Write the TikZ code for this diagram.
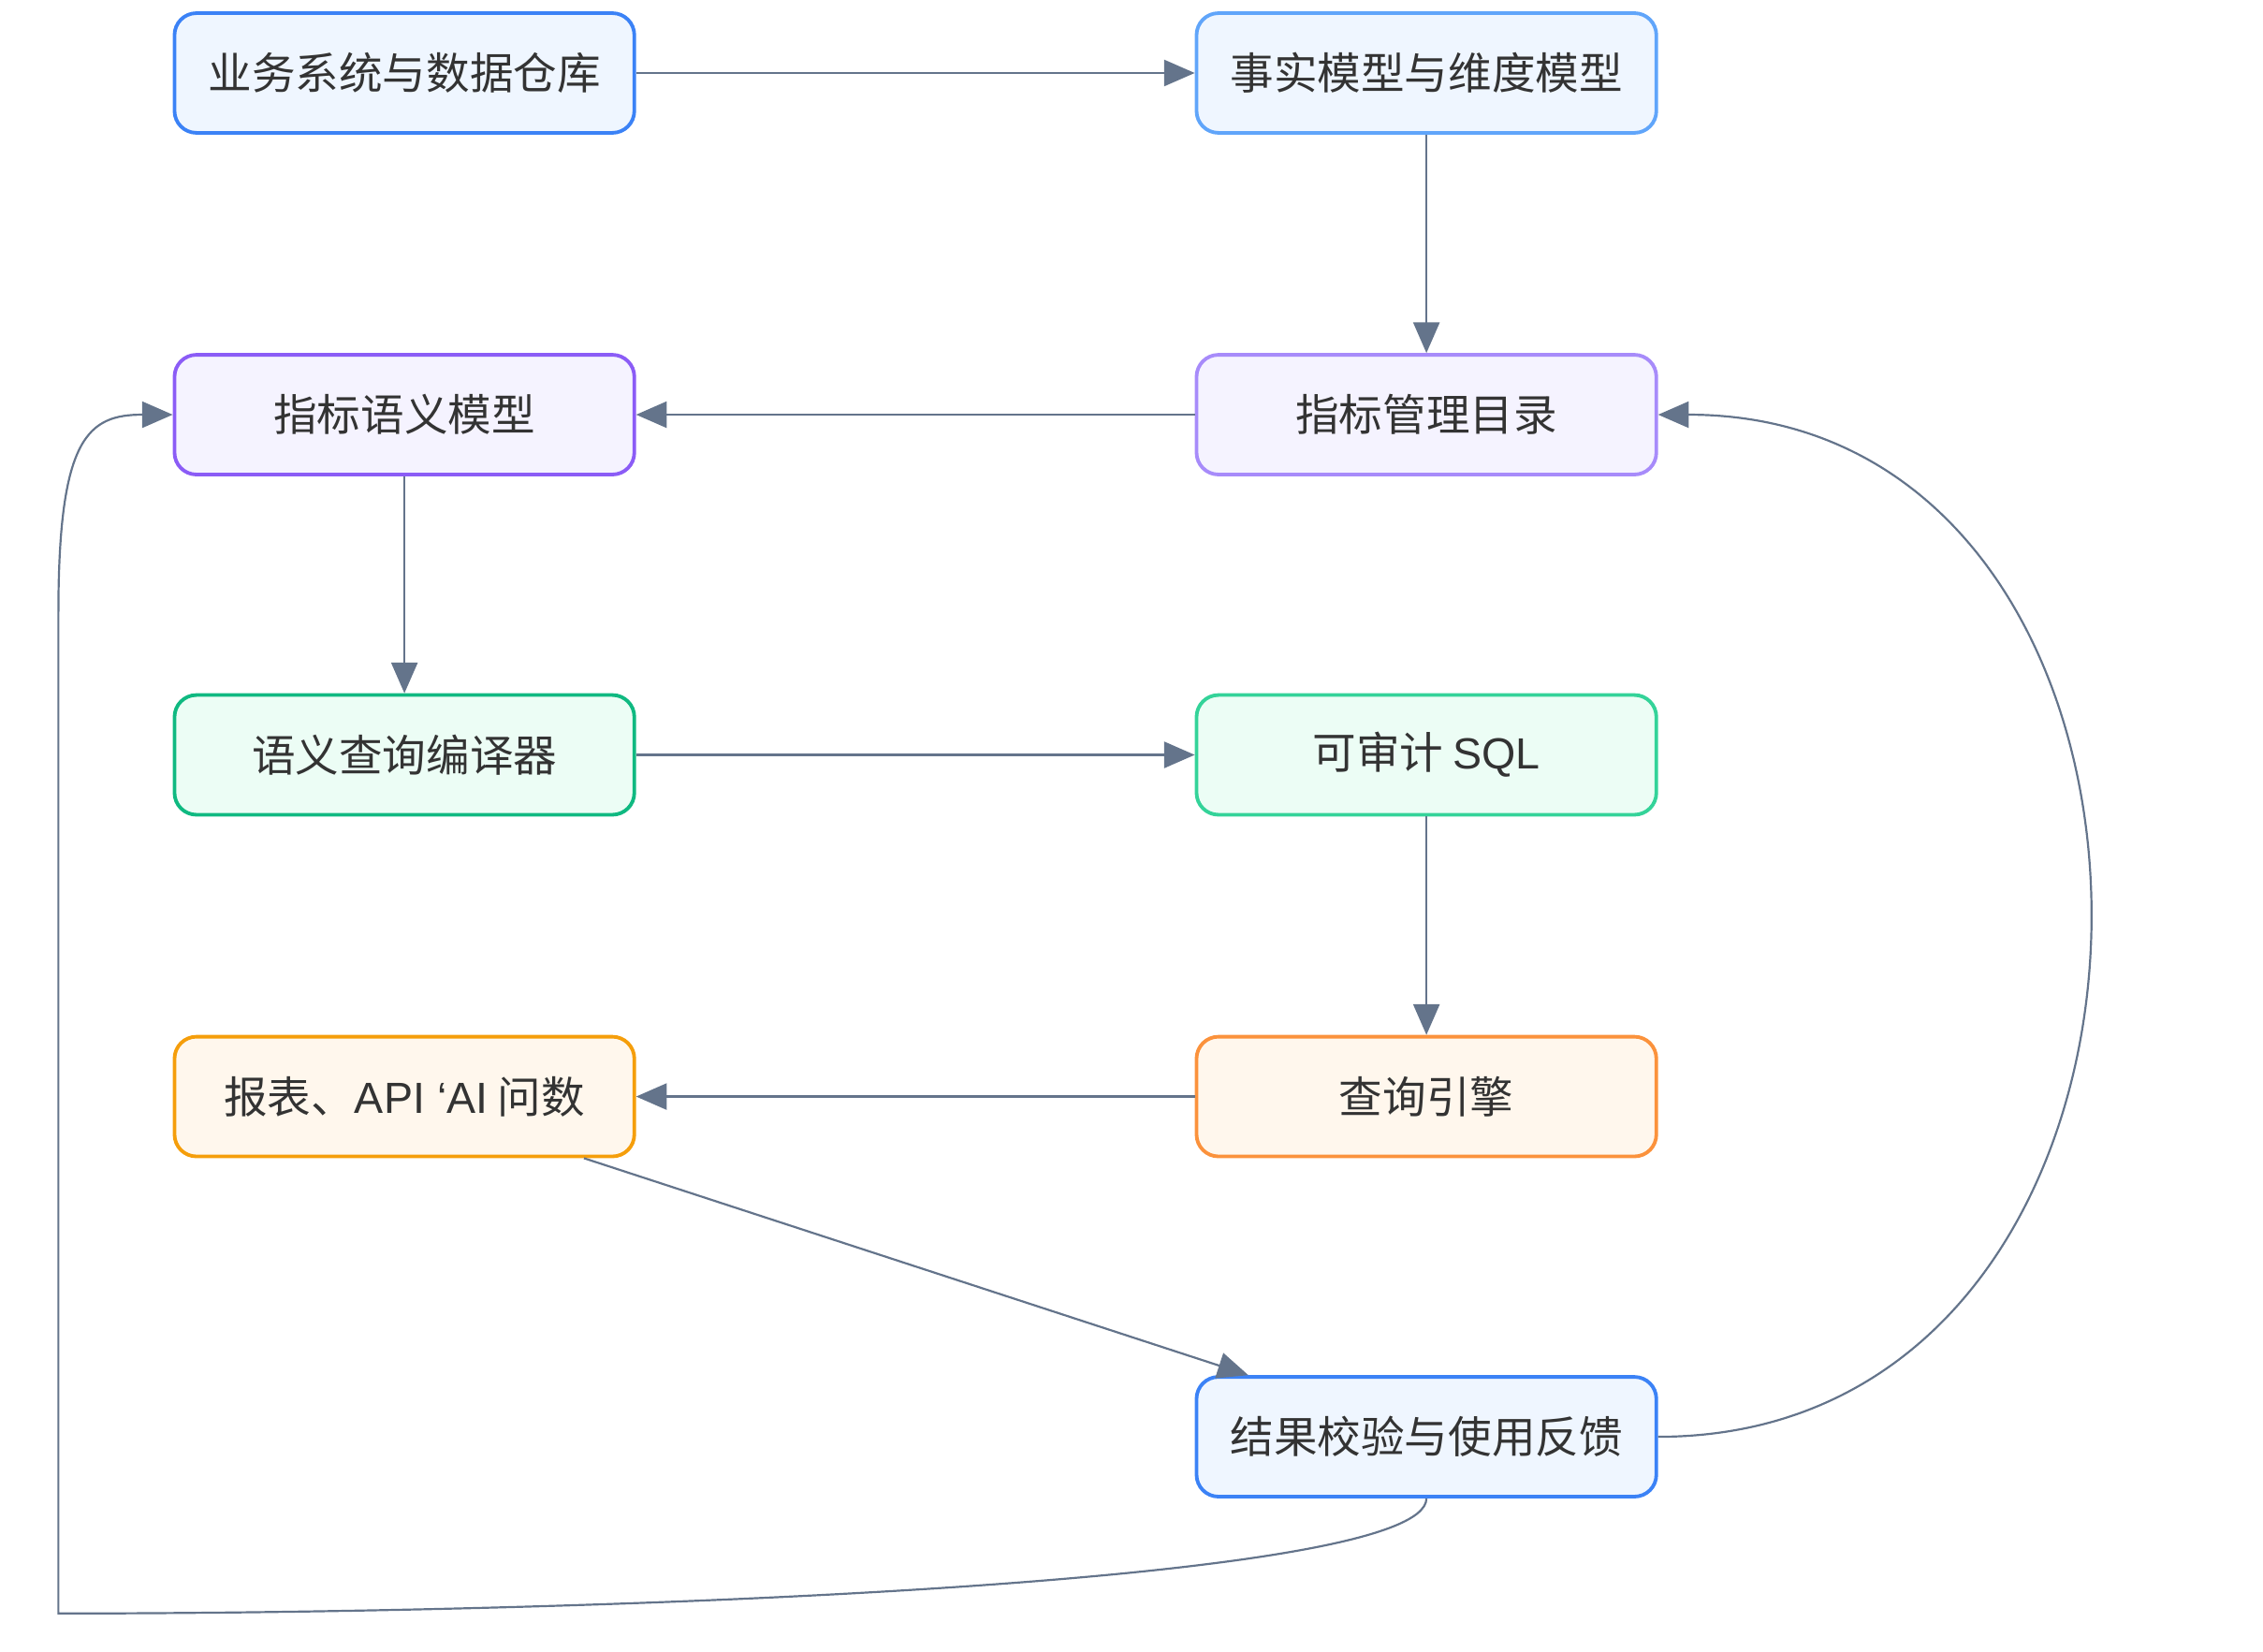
\documentclass[tikz,border=0pt]{standalone}
\usepackage{fontspec}
\setmainfont{Liberation Sans}
\newfontfamily\cjk{Noto Sans CJK SC}
\usepackage{tikz}
\usetikzlibrary{arrows.meta,positioning,calc}
\definecolor{edgegray}{HTML}{64748B}
\definecolor{textgray}{HTML}{333333}
\definecolor{blueline}{HTML}{3B82F6}
\definecolor{bluelight}{HTML}{60A5FA}
\definecolor{bluefill}{HTML}{EFF6FF}
\definecolor{purpline}{HTML}{8B5CF6}
\definecolor{purplight}{HTML}{A78BFA}
\definecolor{purpfill}{HTML}{F5F3FF}
\definecolor{greenline}{HTML}{10B981}
\definecolor{greenlight}{HTML}{34D399}
\definecolor{greenfill}{HTML}{ECFDF5}
\definecolor{orangeline}{HTML}{F59E0B}
\definecolor{orangelight}{HTML}{FB923C}
\definecolor{orangefill}{HTML}{FFF7ED}

\begin{document}
\begin{tikzpicture}[x=0.02cm,y=-0.02cm,
    stagebox/.style={draw,line width=1.4pt,rounded corners=0.3cm,minimum width=6.3cm,minimum height=1.64cm,
      font=\cjk\fontsize{17}{20}\selectfont,text=textgray},
    flow/.style={draw=edgegray,line width=0.8pt,-{Triangle[length=0.42cm,width=0.36cm]}}]
    \useasboundingbox (0,0) rectangle (1550,1131);

    % Left column
    \node[stagebox,draw=blueline,fill=bluefill] (src) at (277,50) {业务系统与数据仓库};
    \node[stagebox,draw=purpline,fill=purpfill] (sem) at (277,284) {指标语义模型};
    \node[stagebox,draw=greenline,fill=greenfill] (comp) at (277,517) {语义查询编译器};
    \node[stagebox,draw=orangeline,fill=orangefill] (use) at (277,751) {报表、{\rmfamily API ‘AI} 问数};

    % Right column
    \node[stagebox,draw=bluelight,fill=bluefill] (fact) at (977,50) {事实模型与维度模型};
    \node[stagebox,draw=purplight,fill=purpfill] (cat) at (977,284) {指标管理目录};
    \node[stagebox,draw=greenlight,fill=greenfill] (sql) at (977,517) {可审计 {\rmfamily SQL}};
    \node[stagebox,draw=orangelight,fill=orangefill] (eng) at (977,751) {查询引擎};
    \node[stagebox,draw=blueline,fill=bluefill] (fb) at (977,984) {结果校验与使用反馈};

    % Main flow
    \draw[flow] (src) -- (fact);
    \draw[flow] (fact) -- (cat);
    \draw[flow] (cat) -- (sem);
    \draw[flow] (sem) -- (comp);
    \draw[flow] (comp) -- (sql);
    \draw[flow] (sql) -- (eng);
    \draw[flow] (eng) -- (use);
    \draw[flow] ($(use.south)+(123,0)$) -- ($(fb.north)+(-122,0)$);

    % Feedback loops
    \draw[flow] (fb.east) .. controls (1528,984) and (1528,284) .. (cat.east);
    \coordinate (low) at (40,1105);
    \draw[flow] (fb.south) .. controls (977,1085) and (400,1105) .. (low)
        -- (40,420) .. controls (40,300) and (60,284) .. (sem.west);
\end{tikzpicture}
\end{document}
